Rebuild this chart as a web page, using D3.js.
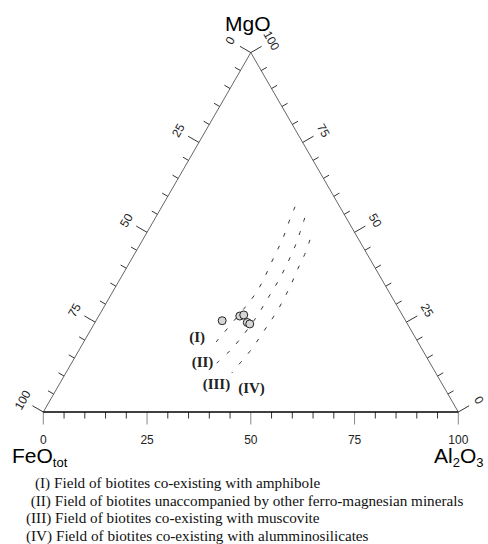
<!DOCTYPE html>
<html>
<head>
<meta charset="utf-8">
<script src="https://cdn.jsdelivr.net/npm/d3@7/dist/d3.min.js"></script>
<style>
  body { margin: 0; background: #fff; }
  svg { display: block; }
</style>
</head>
<body>
<div id="chart"></div>
<script>
// axis values along each side (5 unit steps, labels every 25)
var tickValues = d3.range(0, 101, 5);
var labelValues = [0, 25, 50, 75, 100];

// biotite analyses (normalised FeOtot, MgO, Al2O3)
var sampleFeO   = [44.2, 39.3, 38.2, 38.4, 38.0];
var sampleMgO   = [25.4, 26.7, 27.0, 24.9, 24.5];
var sampleAl2O3 = [30.4, 34.0, 34.8, 36.7, 37.5];

// field boundaries (MgO, Al2O3, FeO is the rest)
var boundary1MgO   = [57.1, 52.9, 48.7, 44.8, 40.9, 37.0, 33.4, 30.1, 23.4, 19.5];
var boundary1Al2O3 = [32.1, 32.7, 33.6, 33.9, 34.2, 34.7, 34.8, 34.3, 32.8, 31.9];
var boundary2MgO   = [54.0, 49.9, 46.0, 41.8, 38.2, 34.0, 30.4, 26.5, 19.5, 16.4, 13.6];
var boundary2Al2O3 = [36.0, 36.9, 37.7, 38.1, 38.4, 38.4, 38.2, 38.3, 37.2, 36.3, 35.0];
var boundary3MgO   = [47.9, 43.7, 40.1, 35.9, 32.0, 27.9, 24.2, 20.9, 16.7, 13.6, 10.9];
var boundary3Al2O3 = [40.3, 41.2, 41.3, 42.0, 42.2, 42.4, 42.0, 41.8, 41.4, 40.6, 40.0];

// field names and where they sit (MgO, Al2O3)
var fieldNames = ["(I)", "(II)", "(III)", "(IV)"];
var fieldMgO   = [19.5, 12.5, 6.4, 5.3];
var fieldAl2O3 = [25.4, 29.5, 35.2, 44.3];

var legendLines = [
  "(I) Field of biotites co-existing with amphibole",
  "(II) Field of biotites unaccompanied by other ferro-magnesian minerals",
  "(III) Field of biotites co-existing with muscovite",
  "(IV) Field of biotites co-existing with alumminosilicates"
];

var width = 488, height = 544;
var left = 43.3, right = 458.3, base = 412;
var side = right - left;

var x = d3.scaleLinear().domain([0, 100]).range([left, right]);
var h = d3.scaleLinear().domain([0, 100]).range([base, base - side * Math.sqrt(3) / 2]);

function proj(fe, mg, al) {
  var s = fe + mg + al;
  mg = mg / s * 100; al = al / s * 100;
  return [x(al + mg / 2), h(mg)];
}

var svg = d3.select("#chart").append("svg")
  .attr("width", width)
  .attr("height", height);

var sansFont = "'Liberation Sans', Arial, sans-serif";
var serifFont = "'Liberation Serif', 'Times New Roman', serif";

// sides of the triangle
var vFe = proj(100, 0, 0), vMg = proj(0, 100, 0), vAl = proj(0, 0, 100);

svg.append("line")
  .attr("x1", vFe[0]).attr("y1", vFe[1])
  .attr("x2", vMg[0]).attr("y2", vMg[1])
  .attr("stroke", "#666").attr("stroke-width", 1);
svg.append("line")
  .attr("x1", vMg[0]).attr("y1", vMg[1])
  .attr("x2", vAl[0]).attr("y2", vAl[1])
  .attr("stroke", "#666").attr("stroke-width", 1);

// ticks: one definition per side, point on side + outward normal
var sides = [
  { pos: function(v) { return proj(100 - v, 0, v); }, n: [0, 1], rot: 0, off: 28 },           // bottom, Al2O3
  { pos: function(v) { return proj(v, 100 - v, 0); }, n: [-0.866, -0.5], rot: -60, off: 24 },  // left, FeO
  { pos: function(v) { return proj(0, v, 100 - v); }, n: [0.866, -0.5], rot: 60, off: 24 }     // right, MgO
];

sides.forEach(function(s, i) {
  svg.append("g").selectAll("line")
    .data(tickValues)
    .enter().append("line")
    .attr("x1", function(d) { return s.pos(d)[0]; })
    .attr("y1", function(d) { return s.pos(d)[1]; })
    .attr("x2", function(d) { var L = d % 25 == 0 ? 12.5 : 6.5; return s.pos(d)[0] + s.n[0] * L; })
    .attr("y2", function(d) { var L = d % 25 == 0 ? 12.5 : 6.5; return s.pos(d)[1] + s.n[1] * L; })
    .attr("stroke", function(d) { return (i == 0 && d % 25 == 0) ? "#888" : "#333"; })
    .attr("stroke-width", 1);

  svg.append("g").selectAll("text")
    .data(labelValues)
    .enter().append("text")
    .attr("transform", function(d) {
      var p = s.pos(d);
      return "translate(" + (p[0] + s.n[0] * s.off) + "," + (p[1] + s.n[1] * s.off) + ") rotate(" + s.rot + ")";
    })
    .attr("text-anchor", "middle")
    .attr("dy", "0.35em")
    .style("font-family", sansFont)
    .style("font-size", "12px")
    .style("fill", "#222")
    .text(function(d) { return d; });
});

// base line drawn last, heavier
svg.append("line")
  .attr("x1", vFe[0]).attr("y1", vFe[1])
  .attr("x2", vAl[0]).attr("y2", vAl[1])
  .attr("stroke", "#000").attr("stroke-width", 1.6);

// corner names
svg.append("text")
  .attr("x", vMg[0] - 3).attr("y", 31)
  .attr("text-anchor", "middle")
  .style("font-family", sansFont).style("font-size", "21px")
  .text("MgO");

var feLabel = svg.append("text")
  .attr("x", 12).attr("y", 463)
  .style("font-family", sansFont).style("font-size", "21px");
feLabel.append("tspan").text("FeO");
feLabel.append("tspan").attr("dy", 4).style("font-size", "13px").text("tot");

var alLabel = svg.append("text")
  .attr("x", 434).attr("y", 463)
  .style("font-family", sansFont).style("font-size", "21px");
alLabel.append("tspan").text("Al");
alLabel.append("tspan").attr("dy", 4).style("font-size", "13px").text("2");
alLabel.append("tspan").attr("dy", -4).text("O");
alLabel.append("tspan").attr("dy", 4).style("font-size", "13px").text("3");

// dashed field boundaries
var line = d3.line().curve(d3.curveBasis);
[[boundary1MgO, boundary1Al2O3], [boundary2MgO, boundary2Al2O3], [boundary3MgO, boundary3Al2O3]]
  .forEach(function(b) {
    var pts = b[0].map(function(mg, k) { return proj(100 - mg - b[1][k], mg, b[1][k]); });
    svg.append("path")
      .attr("d", line(pts))
      .attr("fill", "none")
      .attr("stroke", "#333")
      .attr("stroke-width", 1)
      .attr("stroke-dasharray", "4,10");
  });

// field names
svg.append("g").selectAll("text")
  .data(fieldNames)
  .enter().append("text")
  .attr("x", function(d, k) { return proj(100 - fieldMgO[k] - fieldAl2O3[k], fieldMgO[k], fieldAl2O3[k])[0]; })
  .attr("y", function(d, k) { return proj(100 - fieldMgO[k] - fieldAl2O3[k], fieldMgO[k], fieldAl2O3[k])[1]; })
  .style("font-family", serifFont)
  .style("font-weight", "bold")
  .style("font-size", "15px")
  .style("fill", "#222")
  .text(function(d) { return d; });

// samples
svg.append("g").selectAll("circle")
  .data(sampleFeO)
  .enter().append("circle")
  .attr("cx", function(d, k) { return proj(d, sampleMgO[k], sampleAl2O3[k])[0]; })
  .attr("cy", function(d, k) { return proj(d, sampleMgO[k], sampleAl2O3[k])[1]; })
  .attr("r", 4)
  .attr("fill", "#d6d6d6")
  .attr("stroke", "#222")
  .attr("stroke-width", 1);

// legend
var legendX = [35, 30.7, 26, 26];
svg.append("g").selectAll("text")
  .data(legendLines)
  .enter().append("text")
  .attr("x", function(d, k) { return legendX[k]; })
  .attr("y", function(d, k) { return 488 + k * 17.7; })
  .style("font-family", serifFont)
  .style("font-size", "15.2px")
  .style("fill", "#111")
  .text(function(d) { return d; });
</script>
</body>
</html>
